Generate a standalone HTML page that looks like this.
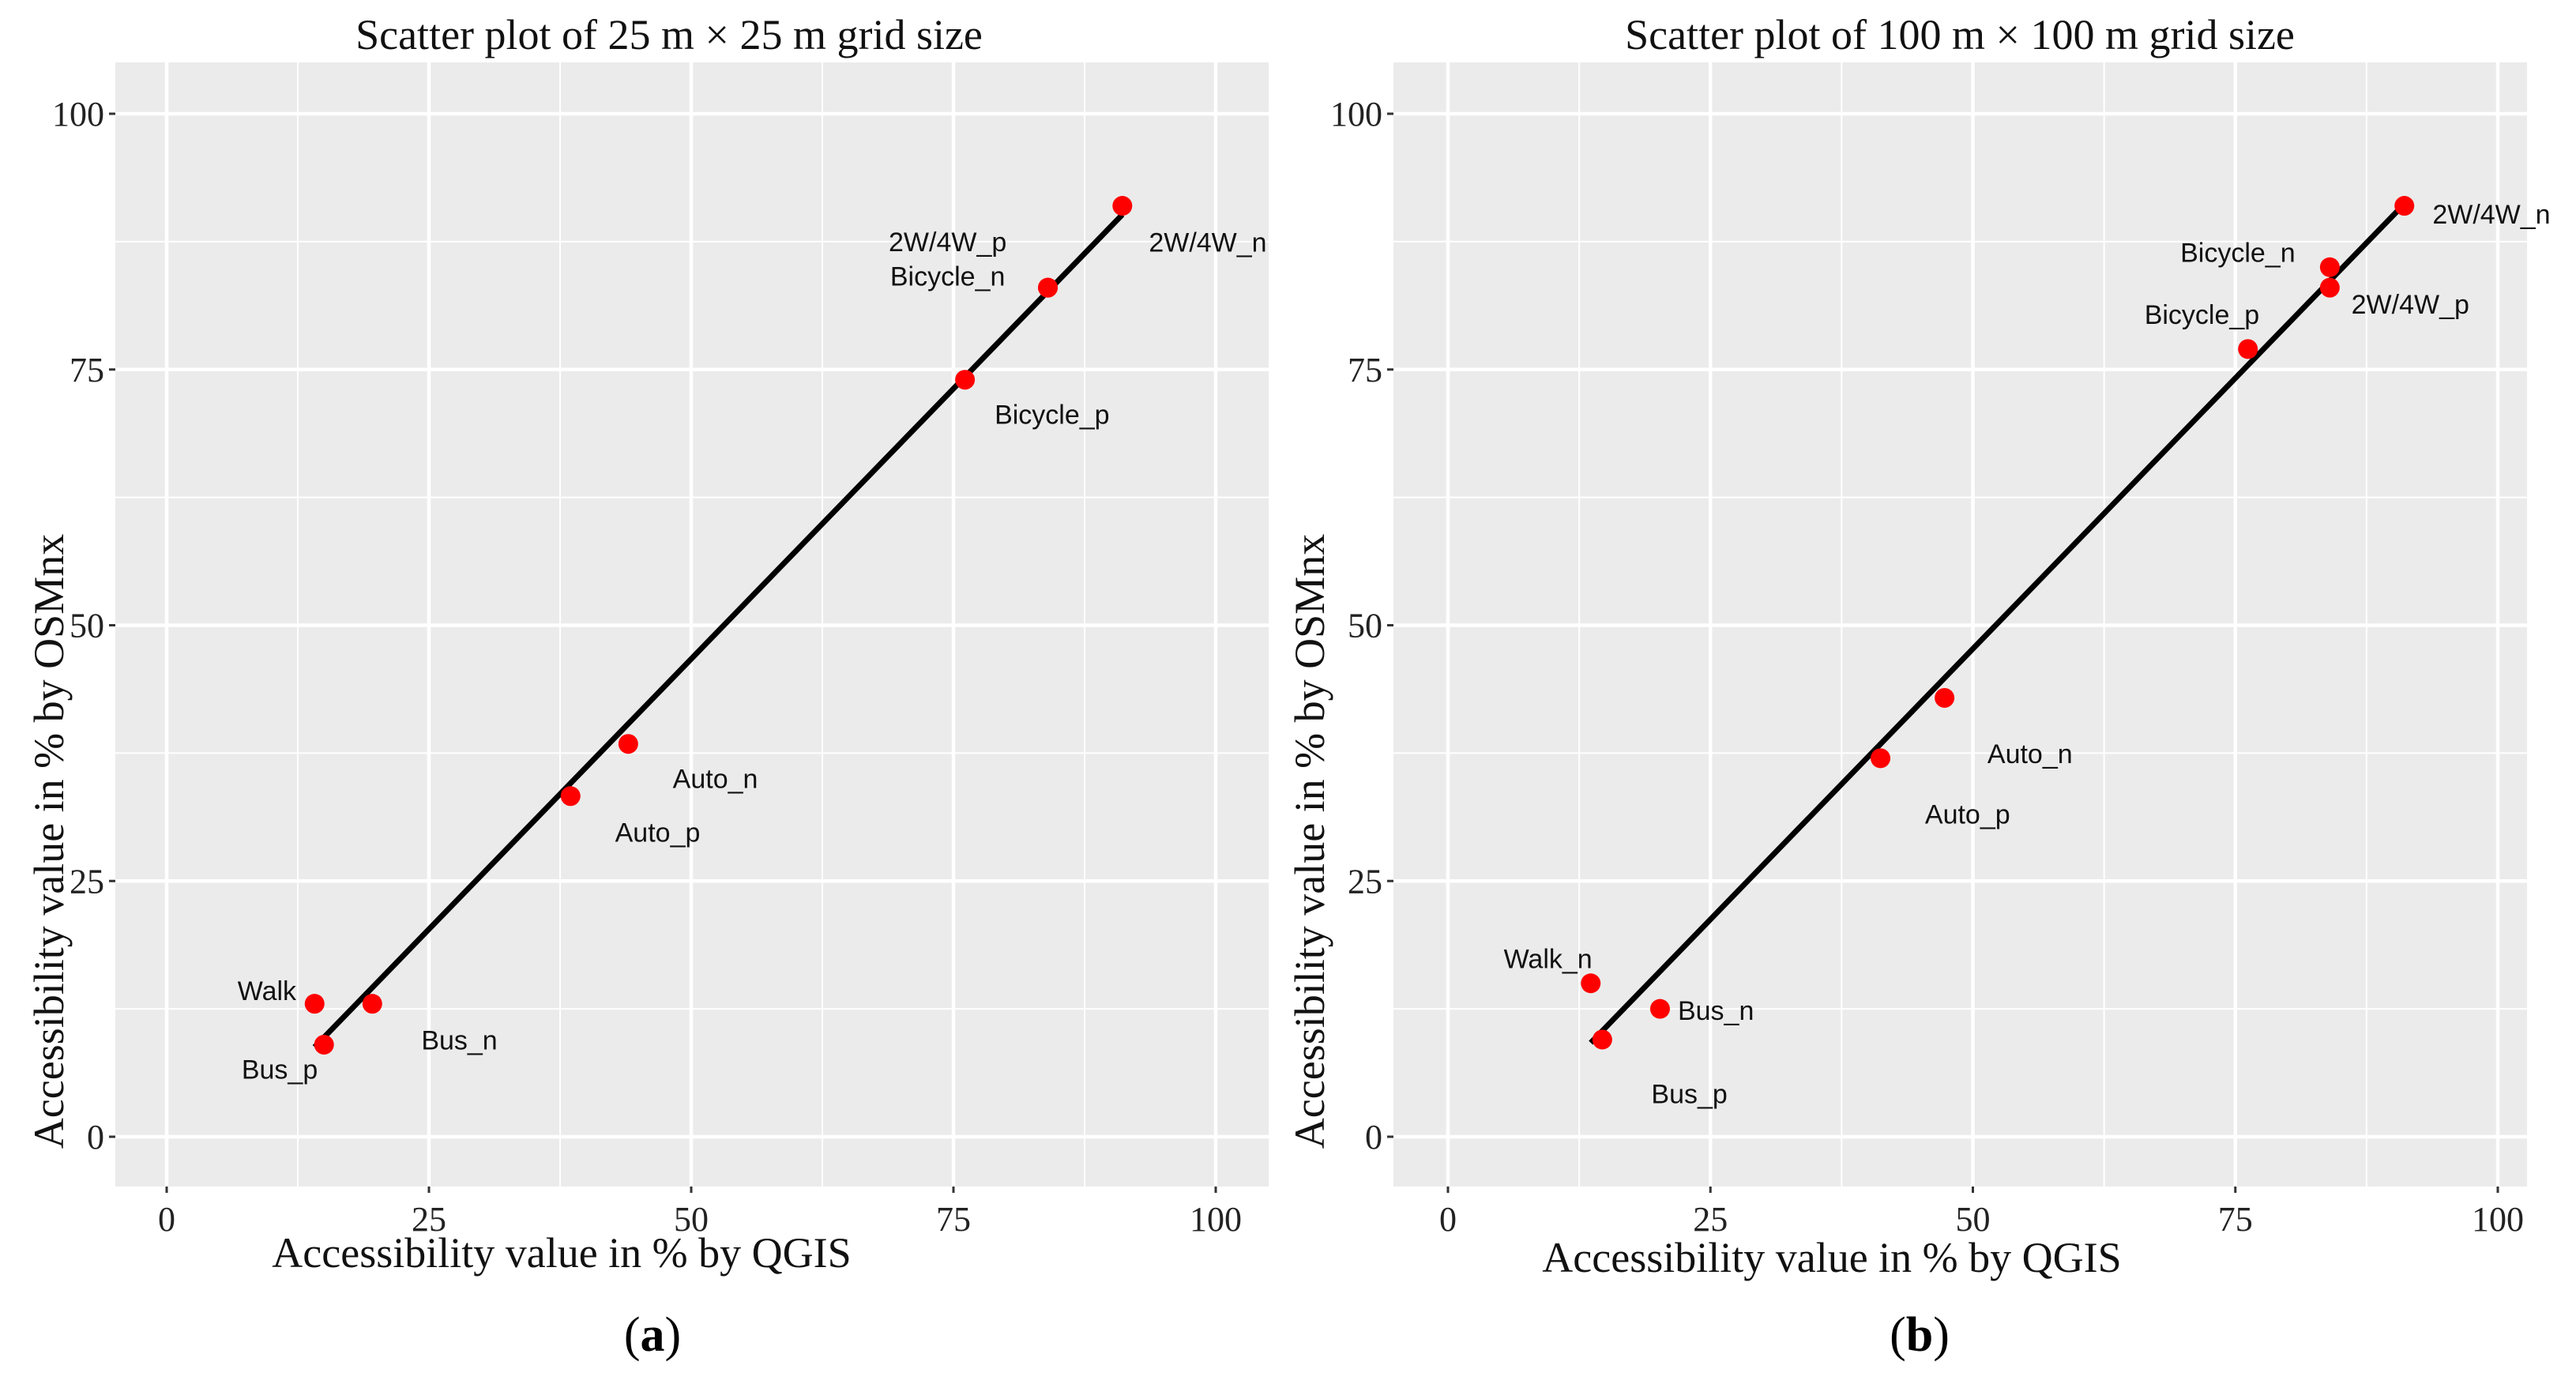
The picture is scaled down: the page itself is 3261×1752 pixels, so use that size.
<!DOCTYPE html>
<html><head><meta charset="utf-8"><style>
html,body{margin:0;padding:0;background:#fff;}
svg{display:block;}
</style></head><body>
<svg id="fig" width="3261" height="1752" viewBox="0 0 3261 1752" xmlns="http://www.w3.org/2000/svg"></svg>
<script>
// Panel (a) data: 25 m grid
const labelsA = ["Walk","Bus_p","Bus_n","Auto_p","Auto_n","Bicycle_p","Bicycle_n","2W/4W_p","2W/4W_n"];
const qgisA   = [14.1, 15.0, 19.6, 38.5, 44.0, 76.1, 84.0, 84.0, 91.1];
const osmA    = [13.0, 9.0, 13.0, 33.3, 38.4, 74.0, 83.0, 83.0, 91.0];
// Panel (b) data: 100 m grid
const labelsB = ["Walk_n","Bus_p","Bus_n","Auto_p","Auto_n","Bicycle_p","Bicycle_n","2W/4W_p","2W/4W_n"];
const qgisB   = [13.6, 14.7, 20.2, 41.2, 47.3, 76.2, 84.0, 84.0, 91.1];
const osmB    = [15.0, 9.5, 12.5, 37.0, 42.9, 77.0, 85.0, 83.0, 91.0];
const tickVals = [0, 25, 50, 75, 100];
const tickLabels = ["0","25","50","75","100"];

const NS = "http://www.w3.org/2000/svg";
const svg = document.getElementById("fig");
function mk(tag, attrs, parent, text){
  const e = document.createElementNS(NS, tag);
  for (const k in attrs) e.setAttribute(k, attrs[k]);
  if (text !== undefined) e.textContent = text;
  (parent||svg).appendChild(e);
  return e;
}
// label offsets (display px, scaled) relative to points
const offA = [[-29,-8],[-27,15],[53,22],[53,22],[53,21],[53,21],[-61,-7],[-61,-28],[52,22]];
const offB = [[-26,-15],[53,33],[34,1],[53,34],[52,34],[-28,-21],[-56,-9],[49,10],[53,5]];

function panel(cfg){
  const g = mk("g", {});
  
  
  const L=cfg.bgL, R=cfg.bgR, T=79, B=1502;
  const x0=cfg.x0, x100=cfg.x100, y0=1439, y100=144;
  const sx = v => x0 + (x100-x0)*v/100;
  const sy = v => y0 + (y100-y0)*v/100;
  const bg = mk("rect",{x:L,y:T,width:R-L,height:B-T,fill:"#ebebeb"},g);
  
  
  for (let v=-12.5; v<=112.5; v+=25){
    if (sx(v)>L && sx(v)<R) mk("line",{x1:sx(v),x2:sx(v),y1:T,y2:B,stroke:"#fff","stroke-width":2},g);
    if (sy(v)>T && sy(v)<B) mk("line",{x1:L,x2:R,y1:sy(v),y2:sy(v),stroke:"#fff","stroke-width":2},g);
  }
  tickVals.forEach((v,i)=>{
    mk("line",{x1:sx(v),x2:sx(v),y1:T,y2:B,stroke:"#fff","stroke-width":4.5},g);
    mk("line",{x1:L,x2:R,y1:sy(v),y2:sy(v),stroke:"#fff","stroke-width":4.5},g);
    mk("line",{x1:sx(v),x2:sx(v),y1:B,y2:B+8,stroke:"#333","stroke-width":3},g);
    mk("line",{x1:L-8,x2:L,y1:sy(v),y2:sy(v),stroke:"#333","stroke-width":3},g);
    const xt = mk("text",{x:sx(v),y:B+56,"text-anchor":"middle","font-family":"Liberation Serif, serif","font-size":44,fill:"#222"},g,tickLabels[i]);
    
    
    const yt = mk("text",{x:L-14,y:sy(v)+15,"text-anchor":"end","font-family":"Liberation Serif, serif","font-size":44,fill:"#222"},g,tickLabels[i]);
    
    
  });
  const xs=cfg.xs, ys=cfg.ys, n=xs.length;
  const mx=xs.reduce((a,b)=>a+b,0)/n, my=ys.reduce((a,b)=>a+b,0)/n;
  let sxy=0,sxx=0; for(let i=0;i<n;i++){sxy+=(xs[i]-mx)*(ys[i]-my);sxx+=(xs[i]-mx)**2;}
  const b1=sxy/sxx, b0=my-b1*mx;
  const xmin=Math.min(...xs), xmax=Math.max(...xs);
  const ln = mk("line",{x1:sx(xmin),y1:sy(b0+b1*xmin),x2:sx(xmax),y2:sy(b0+b1*xmax),stroke:"#000","stroke-width":7},g);
  
  
  for(let i=0;i<n;i++){
    const c = mk("circle",{cx:sx(xs[i]),cy:sy(ys[i]),r:12.5,fill:"#ff0000"},g);
    
    
    const t = mk("text",{x:sx(xs[i])+cfg.off[i][0]*2.08,y:sy(ys[i])+cfg.off[i][1]*2.08+12,"text-anchor":"middle","font-family":"Liberation Sans, sans-serif","font-size":34,fill:"#111"},g,cfg.labels[i]);
    
    
  }
  const tt = mk("text",{x:cfg.titleX,y:62,"text-anchor":"middle","font-family":"Liberation Serif, serif","font-size":54,fill:"#111"},g,cfg.title);
  
  
  const xtt = mk("text",{x:cfg.xTitleX,y:cfg.xTitleY,"text-anchor":"middle","font-family":"Liberation Serif, serif","font-size":54,fill:"#111"},g,"Accessibility value in % by QGIS");
  
  
  const ytt = mk("text",{x:0,y:0,"text-anchor":"middle","font-family":"Liberation Serif, serif","font-size":54,fill:"#111",transform:`translate(${cfg.yTitleX},1065) rotate(-90)`},g,"Accessibility value in % by OSMnx");
  
  
  const pl = mk("text",{x:cfg.capX,y:1710,"text-anchor":"middle","font-family":"Liberation Serif, serif","font-size":62,fill:"#000"},g);
  
  
  mk("tspan",{},pl,"(");
  mk("tspan",{"font-weight":"bold"},pl,cfg.cap);
  mk("tspan",{},pl,")");
}
panel({name:"panel-a",bgL:146,bgR:1606,x0:211,x100:1539,xs:qgisA,ys:osmA,labels:labelsA,off:offA,
  title:"Scatter plot of 25 m × 25 m grid size",titleX:847,xTitleX:711,xTitleY:1604,yTitleX:80,capX:826,cap:"a"});
panel({name:"panel-b",bgL:1764,bgR:3199,x0:1833,x100:3162,xs:qgisB,ys:osmB,labels:labelsB,off:offB,
  title:"Scatter plot of 100 m × 100 m grid size",titleX:2481,xTitleX:2319,xTitleY:1610,yTitleX:1676,capX:2430,cap:"b"});
</script>
</body></html>
